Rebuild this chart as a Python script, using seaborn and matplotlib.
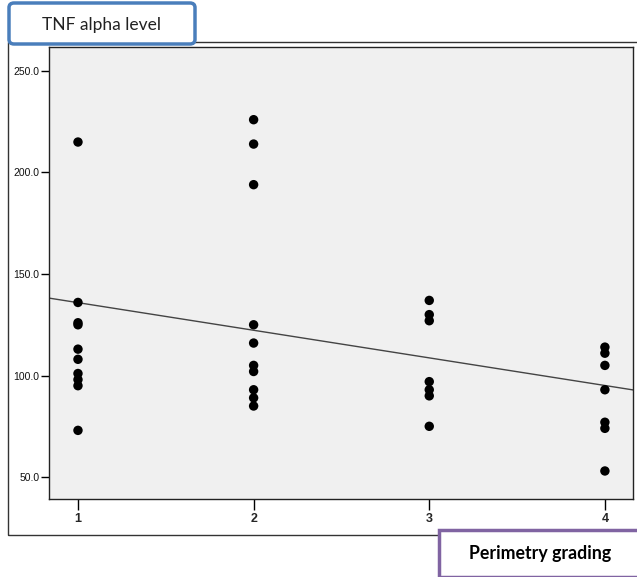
import pandas as pd
import matplotlib.pyplot as plt
import seaborn as sns
from matplotlib.patches import FancyBboxPatch, Rectangle

# values
grade_1 = [215, 136, 126, 125, 113, 108, 101, 98, 95, 73]
grade_2 = [226, 214, 194, 125, 116, 105, 102, 93, 89, 85]
grade_3 = [137, 130, 127, 97, 93, 90, 75]
grade_4 = [114, 111, 105, 93, 77, 74, 53]
grades = [1, 2, 3, 4]
y_ticks = [50, 100, 150, 200, 250]

# linear fit line as drawn in the reference
fit_intercept = 149.5
fit_slope = -13.6

rows = []
for g, vals in zip(grades, [grade_1, grade_2, grade_3, grade_4]):
    rows += [{"grade": g, "tnf": v} for v in vals]
df = pd.DataFrame(rows)

sns.set_style("white")
plt.rcParams['font.family'] = ['Liberation Sans', 'DejaVu Sans']

fig = plt.figure(figsize=(6.37, 5.77), dpi=100)
ax = fig.add_axes([49 / 637, 78 / 577, 584 / 637, 452 / 577])
ax.set_facecolor('#f0f0f0')

sns.scatterplot(data=df, x="grade", y="tnf", ax=ax, color='black',
                s=46, edgecolor='none', legend=False, zorder=3)
ax.axline((0, fit_intercept), slope=fit_slope, color='#444444', lw=1.0, zorder=2)

ax.set_xlim(0.835, 4.16)
ax.set_ylim(39.2, 261.8)
ax.set_xticks(grades)
ax.set_xticklabels([str(g) for g in grades], fontsize=9, fontweight='bold')
ax.set_yticks(y_ticks)
ax.set_yticklabels([f"{v:.1f}" for v in y_ticks], fontsize=7.5, color='#111111')
ax.tick_params(axis='both', direction='out', length=6, width=1, color='black',
               bottom=True, left=True)
ax.tick_params(axis='x', length=8, pad=2)
ax.tick_params(axis='y', pad=1)
ax.set_xlabel("")
ax.set_ylabel("")
for sp in ax.spines.values():
    sp.set_color('#222222')
    sp.set_linewidth(1.0)

# outer chart frame
fig.patches.append(Rectangle((8 / 637, (577 - 535) / 577), 640 / 637, 493 / 577,
                             transform=fig.transFigure, fill=False,
                             edgecolor='#333333', lw=1.0, zorder=0))

# title box
fig.patches.append(FancyBboxPatch((9 / 637, (577 - 44) / 577), 186 / 637, 41 / 577,
                                  boxstyle="round,pad=0,rounding_size=0.008",
                                  transform=fig.transFigure, facecolor='white',
                                  edgecolor='#4a7ebb', lw=2.5, zorder=5))
fig.text(102 / 637, (577 - 25) / 577, "TNF alpha level", family=['Lato', 'DejaVu Sans'],
         fontsize=12.5, ha='center', va='center', color='#222222', zorder=6)

# x label box
fig.patches.append(FancyBboxPatch((439 / 637, 0 / 577), 200 / 637, 47 / 577,
                                  boxstyle="square,pad=0",
                                  transform=fig.transFigure, facecolor='white',
                                  edgecolor='#8064a2', lw=2.5, zorder=5))
fig.text(540 / 637, (577 - 553) / 577, "Perimetry grading", family=['Lato', 'DejaVu Sans'],
         fontsize=12.8, fontweight='bold', ha='center', va='center', color='black', zorder=6)

plt.savefig("out.png", dpi=100)
plt.close()
